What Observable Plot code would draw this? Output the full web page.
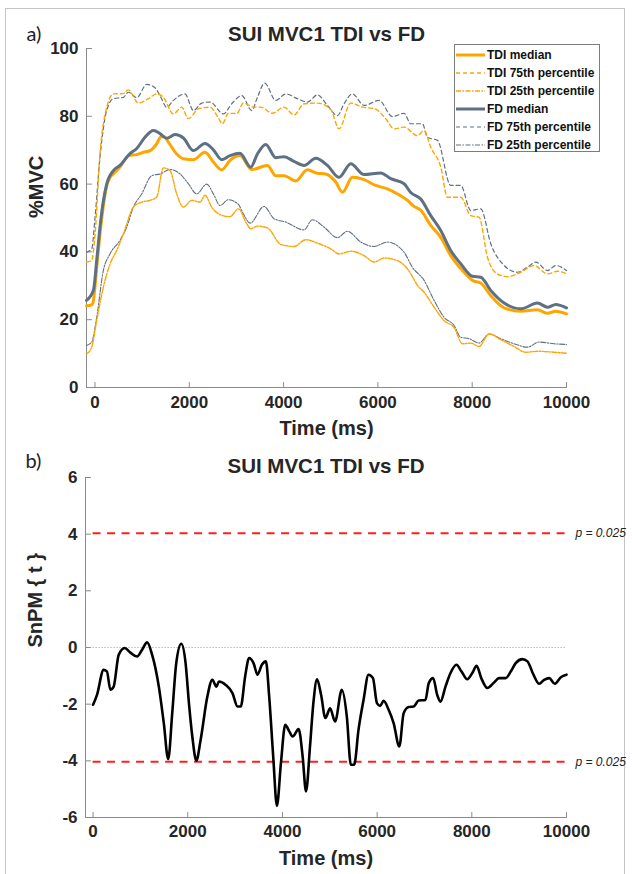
<!DOCTYPE html>
<html>
<head>
<meta charset="utf-8">
<script src="https://cdn.jsdelivr.net/npm/d3@7"></script>
<script src="https://cdn.jsdelivr.net/npm/@observablehq/plot@0.6"></script>
<style>
html,body{margin:0;padding:0;background:#fff;}
#fig{position:relative;width:632px;height:874px;background:#fff;overflow:hidden;font-family:"Liberation Sans",Arial,sans-serif;}
#border{position:absolute;left:5px;top:8px;width:620px;height:900px;border:1px solid #c4c4c4;box-sizing:border-box;}
.panel{position:absolute;left:0;}
#legend{position:absolute;left:454px;top:44px;width:146px;height:108px;border:1px solid #7d7d7d;background:#fff;box-sizing:border-box;padding-top:1px;}
.row{display:flex;align-items:center;height:18px;font-weight:bold;font-size:12px;color:#111;white-space:nowrap;}
.row svg{margin-left:1px;margin-right:2px;flex:none;}
</style>
</head>
<body>
<div id="fig">
  <div id="border"></div>
  <div id="panelA" class="panel" style="top:0"></div>
  <div id="panelB" class="panel" style="top:430px"></div>
  <div id="legend"></div>
</div>
<script>
// ---------- DATA ----------
const title = "SUI MVC1 TDI vs FD";
const xTicks = [0, 2000, 4000, 6000, 8000, 10000];
const yTicksA = [0, 20, 40, 60, 80, 100];
const yTicksB = [-6, -4, -2, 0, 2, 4, 6];

// [time ms, %MVC]
const tdiMedian = [[-180,24.1],[-70,24.4],[-35,25.5],[40,36],[106,45.3],[177,53.5],[248,59.5],[320,62],[390,63],[530,65],[708,68.4],[885,68.7],[1026,69.4],[1167,69.9],[1309,71.9],[1400,74],[1470,74],[1556,72.4],[1733,68.9],[1875,67.5],[2087,67.2],[2333,69.4],[2511,66.5],[2688,64.2],[2864,67],[3076,68.4],[3324,64.3],[3657,65.5],[3833,62.5],[4009,62.5],[4257,60.9],[4505,64.2],[4717,63.2],[4894,63],[5106,60.6],[5248,57.6],[5460,62],[5707,61.3],[5954,59.6],[6202,58.6],[6415,57.1],[6627,55.2],[6760,53.5],[6909,52.3],[7121,47.8],[7333,44.3],[7545,38.9],[7794,34.5],[8006,31.6],[8182,30.8],[8394,27.1],[8677,23.5],[9030,22.5],[9385,22.9],[9597,21.9],[9773,22.5],[10000,21.7]];
const tdi75 = [[-180,37],[-70,37.5],[0,45],[106,68.9],[248,82.6],[390,86.6],[602,86.7],[708,87.8],[920,83.9],[1132,85.2],[1309,86.6],[1450,85.6],[1663,80.7],[1839,82.7],[1981,79.3],[2193,82.2],[2440,82.7],[2617,79.5],[2700,77.8],[2829,80.9],[3006,80.8],[3147,83.9],[3360,82.7],[3515,82.7],[3763,80.9],[4009,82.7],[4221,80.4],[4434,83.7],[4717,83.9],[5000,82],[5176,76.3],[5424,83.9],[5672,82.7],[5919,82.3],[6166,79.3],[6343,76.3],[6555,76.8],[6839,74.3],[6980,75.8],[7121,70.9],[7333,65],[7475,56.1],[7757,56.1],[7970,50.7],[8147,50.2],[8324,38.4],[8536,33.5],[8748,32.7],[9030,34],[9313,36],[9597,33.5],[9809,34.3],[10000,33.5]];
const tdi25 = [[-180,9.9],[-70,11.9],[36,19.8],[177,29.6],[318,36.4],[460,40.4],[602,45.3],[814,53.2],[991,54.7],[1167,55.2],[1309,56.2],[1450,64.8],[1591,64],[1733,57.1],[1875,53.2],[2051,55.2],[2228,54.7],[2333,56.7],[2476,53.2],[2652,51],[2864,50.4],[3042,52.7],[3218,48.3],[3303,46.8],[3445,47.6],[3657,47.1],[3939,42.2],[4221,41.6],[4470,43.6],[4717,42.6],[5000,40.9],[5176,39.4],[5424,40.2],[5707,38.9],[5919,37],[6131,38.2],[6415,37.4],[6627,35],[6720,33],[6839,30.1],[6980,28.1],[7192,23.7],[7404,19.7],[7616,17.7],[7794,12.9],[7970,13.1],[8146,12.1],[8358,15.8],[8606,14.1],[8889,12.1],[9137,10.4],[9385,10.7],[9737,10.4],[10000,10.1]];
const fdMedian = [[-180,25.7],[-35,28.6],[40,38],[106,47.3],[177,55],[248,60],[390,64],[530,65.5],[742,69],[885,70.5],[1060,73.8],[1238,75.8],[1380,74.9],[1521,73.5],[1697,74.6],[1875,73.6],[2087,69.9],[2333,72],[2511,70.1],[2688,67.2],[2864,68.4],[3076,69.1],[3303,65],[3445,68.9],[3621,71.7],[3833,67.8],[4009,68.1],[4221,66.7],[4434,65.5],[4682,67.6],[4930,65.5],[5176,62],[5424,66],[5707,62.8],[6060,63.3],[6273,61.6],[6555,60.1],[6697,57.5],[6909,55.6],[7121,50.7],[7333,46.3],[7545,40.4],[7757,36.5],[8006,32.8],[8182,32.5],[8394,28.6],[8677,24.9],[9030,23.2],[9385,24.9],[9597,23.7],[9773,24.5],[10000,23.5]];
const fd75 = [[-180,39.9],[-70,40.9],[0,50],[106,67.9],[248,81.7],[390,85.2],[602,85.6],[708,87.1],[885,85.5],[1097,89.4],[1273,88.4],[1380,86.1],[1521,82.7],[1663,84.7],[1909,86.6],[2087,81.7],[2264,83.9],[2440,84.2],[2724,80.7],[2900,83.7],[3112,86.1],[3324,81.7],[3445,85.6],[3600,89.8],[3833,84.7],[4045,86.6],[4293,85.2],[4505,84.2],[4717,86.3],[4930,83.2],[5142,80.2],[5283,83.7],[5460,86.6],[5707,83.2],[6025,84.7],[6308,79.9],[6555,80.9],[6697,77.8],[6945,77.8],[7050,73.8],[7263,72.9],[7545,59.6],[7757,59.6],[7970,52.2],[8182,52.7],[8394,42.4],[8677,36],[8960,34],[9172,35.5],[9349,37],[9597,34.5],[9773,36],[10000,34.5]];
const fd25 = [[-180,12.4],[-70,13.4],[36,20.7],[177,34.5],[318,39.4],[530,43.4],[672,47.3],[814,53.2],[991,57.1],[1203,62.5],[1380,63],[1591,64.3],[1803,63],[1981,60.1],[2157,57.1],[2370,60],[2511,57.1],[2652,53.7],[2829,55.4],[3042,54],[3147,51.2],[3289,48.5],[3586,53.4],[3797,49.8],[4045,48.8],[4434,46.5],[4611,49.5],[4858,47.3],[5142,44.2],[5354,46.1],[5636,42.9],[5919,41.6],[6202,42.9],[6555,39.9],[6730,35.5],[6980,31.6],[7192,25.7],[7404,20.7],[7616,18.3],[7757,14.8],[7934,14.4],[8146,13.1],[8358,15.8],[8606,14.4],[8889,12.9],[9172,11.9],[9419,13.4],[9737,12.9],[10000,12.7]];

// [time ms, SnPM{t}]
const snpm = [[0,-2.02],[83,-1.67],[223,-0.79],[294,-0.85],[365,-1.49],[435,-1.38],[541,-0.26],[668,-0.02],[788,-0.18],[930,-0.32],[1036,-0.08],[1142,0.18],[1248,-0.26],[1389,-1.38],[1494,-2.67],[1587,-3.94],[1672,-2.32],[1757,-0.55],[1863,0.13],[1954,-0.55],[2025,-1.96],[2096,-3.14],[2181,-3.99],[2272,-3.26],[2414,-1.73],[2520,-1.14],[2605,-1.38],[2660,-1.2],[2802,-1.32],[2944,-1.61],[3050,-2.08],[3120,-2.08],[3212,-1.02],[3297,-0.37],[3389,-0.55],[3474,-0.96],[3565,-0.61],[3650,-0.49],[3720,-1.73],[3805,-3.85],[3883,-5.59],[3968,-4.08],[4059,-2.73],[4144,-2.96],[4215,-3.14],[4342,-2.88],[4427,-3.85],[4498,-5.08],[4582,-3.49],[4653,-1.96],[4731,-1.12],[4816,-1.67],[4907,-2.49],[5006,-2.15],[5112,-2.61],[5254,-1.49],[5360,-2.44],[5445,-4.14],[5515,-4.14],[5607,-2.9],[5713,-1.85],[5818,-0.96],[5912,-1.08],[5996,-1.96],[6066,-2.06],[6137,-1.88],[6243,-2.2],[6348,-2.67],[6469,-3.49],[6560,-2.32],[6666,-2.1],[6772,-2.08],[6878,-1.87],[7020,-1.85],[7090,-1.26],[7183,-1.08],[7268,-1.67],[7338,-1.91],[7444,-1.38],[7550,-0.9],[7677,-0.61],[7783,-0.85],[7904,-1.12],[8010,-0.9],[8101,-0.65],[8200,-1.08],[8328,-1.43],[8468,-1.24],[8574,-1.08],[8716,-1.08],[8822,-0.85],[8927,-0.55],[9069,-0.41],[9175,-0.49],[9302,-0.96],[9422,-1.28],[9528,-1.14],[9634,-1.08],[9754,-1.28],[9881,-1.05],[10000,-0.96]];
const thresholds = [{v: 4.03, label: "p = 0.025"}, {v: -4.03, label: "p = 0.025"}];
const timeSpan = [0, 10000];

const seriesNames = ["TDI median", "TDI 75th percentile", "TDI 25th percentile", "FD median", "FD 75th percentile", "FD 25th percentile"];

// ---------- STYLES ----------
const ORANGE = "#ffa500", SLATE = "#5e7084", AXIS = "#8a8a8a", TXT = "#262626";
const FONT = "'Liberation Sans', Arial, sans-serif";
const styles = {
  "TDI median": {stroke: ORANGE, strokeWidth: 3, dash: null},
  "TDI 75th percentile": {stroke: ORANGE, strokeWidth: 1.4, dash: "4,3"},
  "TDI 25th percentile": {stroke: ORANGE, strokeWidth: 1.4, dash: "5,1.5,1.5,1.5"},
  "FD median": {stroke: SLATE, strokeWidth: 3, dash: null},
  "FD 75th percentile": {stroke: SLATE, strokeWidth: 1.2, dash: "4,3"},
  "FD 25th percentile": {stroke: SLATE, strokeWidth: 1.1, dash: "5,1.5,1.5,1.5"}
};
const seriesData = {
  "TDI median": tdiMedian, "TDI 75th percentile": tdi75, "TDI 25th percentile": tdi25,
  "FD median": fdMedian, "FD 75th percentile": fd75, "FD 25th percentile": fd25
};
const drawOrder = ["FD 25th percentile", "TDI 25th percentile", "FD 75th percentile", "TDI 75th percentile", "TDI median", "FD median"];

const xDomA = [-180, 10000], xDomB = [-160, 10000];

function lineFor(name) {
  const s = styles[name];
  return Plot.line(seriesData[name].map(([t, v]) => ({t, v})), {
    x: "t", y: "v", stroke: s.stroke, strokeWidth: s.strokeWidth,
    strokeDasharray: s.dash, curve: "monotone-x"
  });
}

// inward tick marks (MATLAB style)
const tickShape = {draw(context, l) { context.moveTo(0, 0); context.lineTo(0, -l); }};
function inwardTicks(xt, yt, xDom, yDom) {
  return [
    Plot.vector(xt, {x: d => d, y: yDom[0], length: 5, rotate: 0, anchor: "start", shape: tickShape, stroke: AXIS, strokeWidth: 1}),
    Plot.vector(yt, {x: xDom[0], y: d => d, length: 5, rotate: 90, anchor: "start", shape: tickShape, stroke: AXIS, strokeWidth: 1})
  ];
}

const textStyle = {fontFamily: FONT, fontWeight: "bold", fill: TXT, lineAnchor: "middle"};

// ---------- PANEL A ----------
const yDomA = [yTicksA[0], yTicksA[yTicksA.length - 1]];
const plotA = Plot.plot({
  width: 632, height: 430,
  marginLeft: 86, marginRight: 66, marginTop: 48, marginBottom: 43,
  style: {fontFamily: FONT, fontSize: "17px", color: TXT, background: "transparent", overflow: "visible"},
  x: {domain: xDomA, label: null},
  y: {domain: yDomA, label: null},
  marks: [
    Plot.ruleX([xDomA[0]], {stroke: AXIS}),
    Plot.ruleY([yDomA[0]], {stroke: AXIS}),
    ...inwardTicks(xTicks, yTicksA, xDomA, yDomA),
    Plot.axisX({ticks: xTicks, tickFormat: d => String(d), tickSize: 0, tickPadding: 8, fill: TXT, fontSize: 17, fontWeight: "bold", label: null}),
    Plot.axisY({ticks: yTicksA, tickFormat: d => String(d), tickSize: 0, tickPadding: 8, fill: TXT, fontSize: 17, fontWeight: "bold", label: null}),
    ...drawOrder.map(lineFor),
    Plot.text([title], {text: d => d, frameAnchor: "top", dy: -14, fontSize: 20.5, ...textStyle}),
    Plot.text(["Time (ms)"], {text: d => d, frameAnchor: "bottom", dy: 41, fontSize: 20, ...textStyle}),
    Plot.text(["%MVC"], {text: d => d, frameAnchor: "left", dx: -50, rotate: -90, fontSize: 20, ...textStyle}),
    Plot.text(["a)"], {text: d => d, frameAnchor: "top-left", dx: -60, dy: -14, lineAnchor: "middle", fontSize: 20, fontFamily: "Lato, 'Open Sans', sans-serif", fontWeight: "normal", fill: "#222"})
  ]
});
document.getElementById("panelA").appendChild(plotA);

// ---------- PANEL B ----------
const yDomB = [yTicksB[0], yTicksB[yTicksB.length - 1]];
const plotB = Plot.plot({
  width: 632, height: 444,
  marginLeft: 85, marginRight: 66, marginTop: 47, marginBottom: 57,
  style: {fontFamily: FONT, fontSize: "17px", color: TXT, background: "transparent", overflow: "visible"},
  x: {domain: xDomB, label: null},
  y: {domain: yDomB, label: null},
  marks: [
    Plot.ruleX([xDomB[0]], {stroke: AXIS}),
    Plot.ruleY([yDomB[0]], {stroke: AXIS}),
    ...inwardTicks(xTicks, yTicksB, xDomB, yDomB),
    Plot.axisX({ticks: xTicks, tickFormat: d => String(d), tickSize: 0, tickPadding: 7, fill: TXT, fontSize: 17, fontWeight: "bold", label: null}),
    Plot.axisY({ticks: yTicksB, tickFormat: d => String(d), tickSize: 0, tickPadding: 8, fill: TXT, fontSize: 17, fontWeight: "bold", label: null}),
    Plot.ruleY([0], {x1: timeSpan[0], x2: timeSpan[1], stroke: "#9a9a9a", strokeWidth: 1, strokeDasharray: "1,2"}),
    Plot.ruleY(thresholds, {y: "v", x1: timeSpan[0], x2: timeSpan[1], stroke: "#ff1f1f", strokeWidth: 2, strokeDasharray: "8,6.5"}),
    Plot.line(snpm.map(([t, v]) => ({t, v})), {x: "t", y: "v", stroke: "#000", strokeWidth: 2.6, curve: "monotone-x"}),
    Plot.text(thresholds, {x: timeSpan[1], y: "v", text: "label", dx: 9, textAnchor: "start", fontSize: 12, fontStyle: "italic", fontFamily: FONT, fill: "#222"}),
    Plot.text([title], {text: d => d, frameAnchor: "top", dy: -11, fontSize: 20.5, ...textStyle}),
    Plot.text(["Time (ms)"], {text: d => d, frameAnchor: "bottom", dy: 41, fontSize: 20, ...textStyle}),
    Plot.text(["SnPM { t }"], {text: d => d, frameAnchor: "left", dx: -50, rotate: -90, fontSize: 20, ...textStyle}),
    Plot.text(["b)"], {text: d => d, frameAnchor: "top-left", dx: -60, dy: -16, lineAnchor: "middle", fontSize: 20, fontFamily: "Lato, 'Open Sans', sans-serif", fontWeight: "normal", fill: "#222"})
  ]
});
document.getElementById("panelB").appendChild(plotB);

// ---------- LEGEND ----------
const legend = document.getElementById("legend");
seriesNames.forEach(name => {
  const s = styles[name];
  const row = document.createElement("div");
  row.className = "row";
  const ns = "http://www.w3.org/2000/svg";
  const svg = document.createElementNS(ns, "svg");
  svg.setAttribute("width", 29); svg.setAttribute("height", 8);
  const ln = document.createElementNS(ns, "line");
  ln.setAttribute("x1", 0); ln.setAttribute("x2", 29); ln.setAttribute("y1", 4); ln.setAttribute("y2", 4);
  ln.setAttribute("stroke", s.stroke); ln.setAttribute("stroke-width", s.strokeWidth);
  if (s.dash) ln.setAttribute("stroke-dasharray", s.dash);
  svg.appendChild(ln);
  row.appendChild(svg);
  const span = document.createElement("span");
  span.textContent = name;
  row.appendChild(span);
  legend.appendChild(row);
});
</script>
</body>
</html>
